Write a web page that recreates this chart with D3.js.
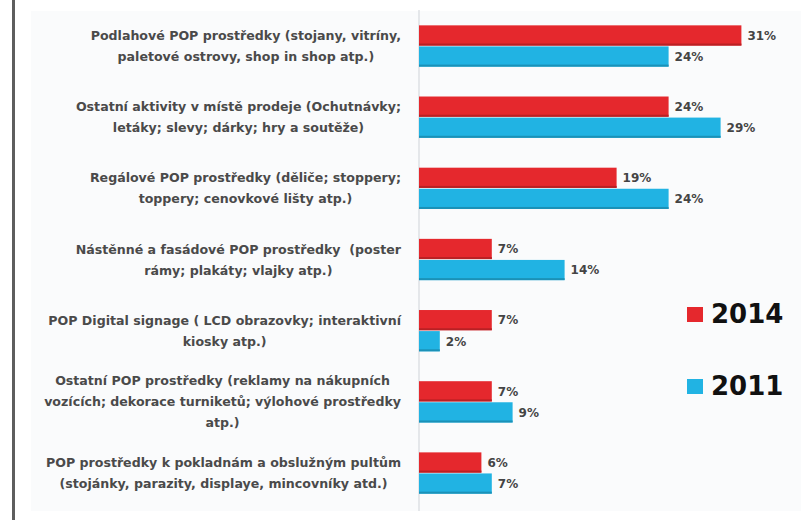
<!DOCTYPE html>
<html>
<head>
<meta charset="utf-8">
<script src="https://cdn.jsdelivr.net/npm/d3@7"></script>
<style>
  html, body { margin: 0; padding: 0; background: #ffffff; }
  svg { display: block; }
  .cat { white-space: pre; }
</style>
</head>
<body>
<svg id="chart" width="808" height="520"></svg>
<script>
// Categories (each entry is one label, split into its printed lines)
const categories = [
  ["Podlahové POP prostředky (stojany, vitríny,", "paletové ostrovy, shop in shop atp.)"],
  ["Ostatní aktivity v místě prodeje (Ochutnávky;", "letáky; slevy; dárky; hry a soutěže)"],
  ["Regálové POP prostředky (děliče; stoppery;", "toppery; cenovkové lišty atp.)"],
  ["Nástěnné a fasádové POP prostředky  (poster", "rámy; plakáty; vlajky atp.)"],
  ["POP Digital signage ( LCD obrazovky; interaktivní", "kiosky atp.)"],
  ["Ostatní POP prostředky (reklamy na nákupních", "vozících; dekorace turniketů; výlohové prostředky", "atp.)"],
  ["POP prostředky k pokladnám a obslužným pultům", "(stojánky, parazity, displaye, mincovníky atd.)"]
];
const seriesNames = ["2014", "2011"];
const values2014 = [31, 24, 19, 7, 7, 7, 6];
const values2011 = [24, 29, 24, 14, 2, 9, 7];
const seriesColors = ["#e5282d", "#21b3e3"];

const svg = d3.select("#chart");

// plot background panel and left frame rule
svg.append("rect").attr("x", 31).attr("y", 11).attr("width", 770).attr("height", 500)
  .attr("fill", "#fafbfc");
svg.append("rect").attr("x", 12).attr("y", 0).attr("width", 3).attr("height", 520)
  .attr("fill", "#5e5e5e");

const x0 = 419;
const x = d3.scaleLinear().domain([0, 30]).range([x0, x0 + 312]);
const idx = d3.range(categories.length);
const y = d3.scaleBand().domain(idx).range([10.4, 508.6]).paddingInner(0.42).paddingOuter(0.21);
const ySub = d3.scaleBand().domain(seriesNames).range([0, y.bandwidth()]).paddingInner(0.04);

// axis line
svg.append("line").attr("x1", x0).attr("x2", x0).attr("y1", 10).attr("y2", 511)
  .attr("stroke", "#cfd3d8").attr("stroke-width", 1);

const seriesData = [values2014, values2011];
seriesNames.forEach((name, s) => {
  const g = svg.append("g");
  const rows = idx.map(i => ({ i, v: seriesData[s][i] }));
  g.selectAll("rect.bar").data(rows).join("rect")
    .attr("class", "bar")
    .attr("x", x0)
    .attr("y", d => y(d.i) + ySub(name))
    .attr("width", d => x(d.v) - x0)
    .attr("height", ySub.bandwidth())
    .attr("fill", seriesColors[s]);
  // darker lower edge of each bar
  g.selectAll("rect.edge").data(rows).join("rect")
    .attr("class", "edge")
    .attr("x", x0)
    .attr("y", d => y(d.i) + ySub(name) + ySub.bandwidth() - 2)
    .attr("width", d => x(d.v) - x0)
    .attr("height", 2)
    .attr("fill", d3.color(seriesColors[s]).darker(0.6));
  g.selectAll("text.val").data(rows).join("text")
    .attr("class", "val")
    .attr("x", d => x(d.v) + 6)
    .attr("y", d => y(d.i) + ySub(name) + ySub.bandwidth() / 2)
    .attr("dy", "0.36em")
    .attr("font-family", "DejaVu Sans, Verdana, sans-serif")
    .attr("font-size", 12)
    .attr("font-weight", "bold")
    .attr("fill", "#444")
    .text(d => d.v + "%");
});

// category labels: block right-aligned to the axis, lines centered within it
const labelRight = 401;
const lineGap = 21;
idx.forEach(i => {
  const lines = categories[i];
  const cy = y(i) + y.bandwidth() / 2;
  const t = svg.append("text")
    .attr("class", "cat")
    .attr("font-family", "DejaVu Sans, Verdana, sans-serif")
    .attr("font-size", 12.6)
    .attr("font-weight", "bold")
    .attr("fill", "#4a4a4a")
    .attr("text-anchor", "middle");
  const spans = lines.map((ln, k) => t.append("tspan")
    .attr("y", cy + (k - (lines.length - 1) / 2) * lineGap)
    .attr("dy", "0.36em")
    .text(ln));
  const maxW = d3.max(spans, sp => sp.node().getComputedTextLength());
  spans.forEach(sp => sp.attr("x", labelRight - maxW / 2));
});

// legend
const legend = svg.append("g");
const legendY = [315, 387];
seriesNames.forEach((name, s) => {
  legend.append("rect").attr("x", 687).attr("y", legendY[s] - 8).attr("width", 16).attr("height", 15)
    .attr("fill", seriesColors[s]);
  legend.append("text").attr("x", 711).attr("y", legendY[s] + 8)
    .attr("font-family", "DejaVu Sans, Verdana, sans-serif")
    .attr("font-weight", "bold").attr("font-size", 26)
    .attr("fill", "#111")
    .text(name);
});
</script>
</body>
</html>
